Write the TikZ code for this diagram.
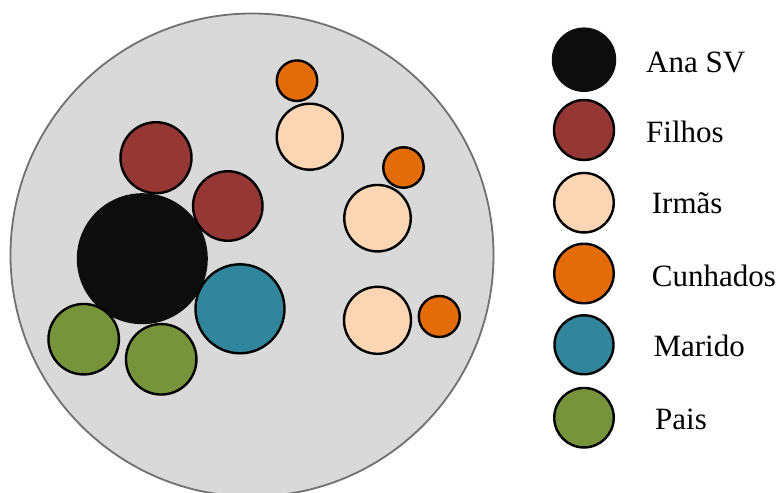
\documentclass[tikz,border=0pt]{standalone}
\usepackage{xcolor}
\usepackage{fontspec}
\setmainfont{Liberation Serif}
\usepackage{tikz}

\definecolor{fundo}{RGB}{217,217,217}
\definecolor{borda}{RGB}{112,112,112}
\definecolor{anasv}{RGB}{13,13,13}
\definecolor{filhos}{RGB}{149,55,53}
\definecolor{irmas}{RGB}{252,213,181}
\definecolor{cunhados}{RGB}{227,108,9}
\definecolor{marido}{RGB}{49,133,156}
\definecolor{pais}{RGB}{119,147,60}

\begin{document}
\begin{tikzpicture}[x=1pt,y=1pt,yscale=-1,xscale=1,
  pessoa/.style={circle,draw=black,line width=2.4pt,inner sep=0pt},
  legenda/.style={anchor=base west,inner sep=0pt,font=\fontsize{31}{36}\selectfont}]
\useasboundingbox (0,0) rectangle (780,493);

%Shape: Circle [grupo]
\node [circle,draw=borda,fill=fundo,line width=1.8pt,minimum size=483,inner sep=0pt] (grupo) at (252,255) {};

%Shape: Circle [Ana SV]
\node [circle,fill=anasv,minimum size=131,inner sep=0pt] (ana) at (142.3,258.7) {};
%Shape: Circle [Filhos]
\node [pessoa,fill=filhos,minimum size=71] (filho1) at (156,157.7) {};
\node [pessoa,fill=filhos,minimum size=69.5] (filho2) at (227.8,206) {};
%Shape: Circle [Marido]
\node [pessoa,fill=marido,minimum size=89] (marido) at (240,308.8) {};
%Shape: Circle [Pais]
\node [pessoa,fill=pais,minimum size=70.5] (pai1) at (83.7,339.2) {};
\node [pessoa,fill=pais,minimum size=70.5] (pai2) at (161.2,359.3) {};
%Shape: Circle [Irmas]
\node [pessoa,fill=irmas,minimum size=66] (irma1) at (309.7,136.7) {};
\node [pessoa,fill=irmas,minimum size=66.5] (irma2) at (377.5,218.2) {};
\node [pessoa,fill=irmas,minimum size=67] (irma3) at (377.5,320.3) {};
%Shape: Circle [Cunhados]
\node [pessoa,fill=cunhados,minimum size=40.5] (cunhado1) at (297,80.7) {};
\node [pessoa,fill=cunhados,minimum size=40.5] (cunhado2) at (403.5,167.5) {};
\node [pessoa,fill=cunhados,minimum size=41] (cunhado3) at (439.3,316.5) {};

%Shape: Circle [legenda]
\node [circle,fill=anasv,minimum size=64.5,inner sep=0pt] (legAna) at (584,59.7) {};
\node [pessoa,fill=filhos,minimum size=60] (legFilhos) at (584,130) {};
\node [pessoa,fill=irmas,minimum size=59.5] (legIrmas) at (584,202.7) {};
\node [pessoa,fill=cunhados,minimum size=59.5] (legCunhados) at (584,273.5) {};
\node [pessoa,fill=marido,minimum size=59] (legMarido) at (584,344.8) {};
\node [pessoa,fill=pais,minimum size=59.5] (legPais) at (584,417.7) {};

% Text Node
\node [legenda] (txtAna) at (646,72.3) {Ana SV};
% Text Node
\node [legenda] (txtFilhos) at (646,142) {Filhos};
% Text Node
\node [legenda] (txtIrmas) at (651.7,213.3) {Irmãs};
% Text Node
\node [legenda] (txtCunhados) at (651.7,286.7) {Cunhados};
% Text Node
\node [legenda] (txtMarido) at (653.3,356.7) {Marido};
% Text Node
\node [legenda] (txtPais) at (655,429.3) {Pais};

\end{tikzpicture}
\end{document}
